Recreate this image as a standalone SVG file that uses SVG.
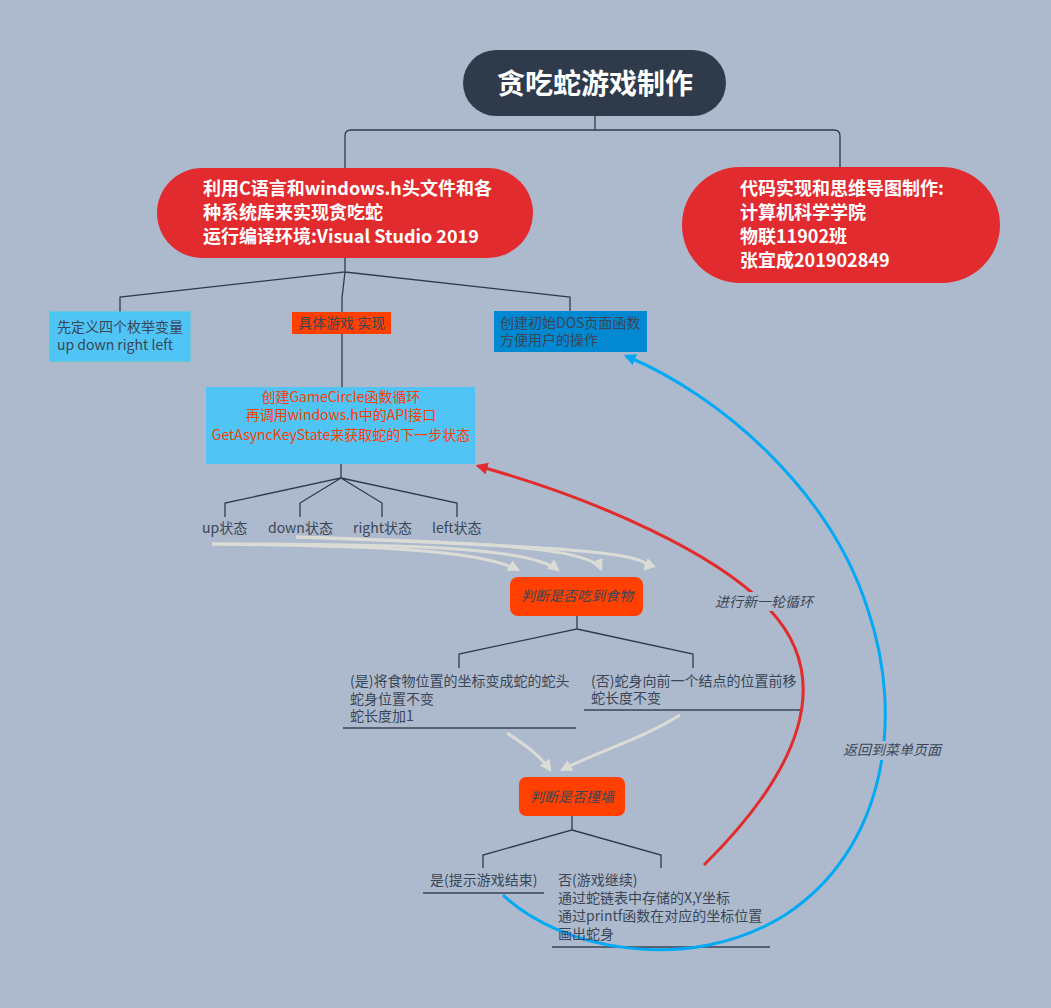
<svg xmlns="http://www.w3.org/2000/svg" width="1051" height="1008" viewBox="0 0 1051 1008">
<defs>
<style>
.t{font-family:"Noto Sans CJK SC","Noto Sans",sans-serif;font-size:14px;fill:#3a4657}
.b{font-family:"Noto Sans CJK SC","Noto Sans",sans-serif;font-size:18px;font-weight:bold;fill:#ffffff}
.i{font-family:"Noto Sans CJK SC","Noto Sans",sans-serif;font-size:14px;font-style:italic;fill:#3a4657}
.o{font-family:"Noto Sans CJK SC","Noto Sans",sans-serif;font-size:14px;fill:#ff3d00}
.ln{fill:none;stroke:#2f3b4b;stroke-width:1.3}
.ul{fill:none;stroke:#3a4657;stroke-width:1.3}
.ga{fill:none;stroke:#dcdcd6;stroke-width:3;marker-end:url(#mg)}
</style>
<marker id="mg" viewBox="0 0 10 10" refX="8" refY="5" markerWidth="4" markerHeight="4" orient="auto" markerUnits="strokeWidth"><path d="M0,0 L10,5 L0,10 z" fill="#dcdcd6"/></marker>
<marker id="mr" viewBox="0 0 10 10" refX="8" refY="5" markerWidth="4" markerHeight="4" orient="auto" markerUnits="strokeWidth"><path d="M0,0 L10,5 L0,10 z" fill="#e22b2b"/></marker>
<marker id="mb" viewBox="0 0 10 10" refX="8" refY="5" markerWidth="4" markerHeight="4" orient="auto" markerUnits="strokeWidth"><path d="M0,0 L10,5 L0,10 z" fill="#03a9f4"/></marker>
</defs>
<rect width="1051" height="1008" fill="#adbacd"/>

<g id="connectors">
<path class="ln" d="M595,116 V130 M351,130 H834 Q840,130 840,136 V168 M351,130 Q345,130 345,136 V170" stroke-width="1.6"/>
<path class="ln" d="M345,258 V272 L120,297 V312 M345,272 L342,298 V312 M345,272 L570,297 V312"/>
<path class="ln" d="M342,334 V387"/>
<path class="ln" d="M341,464 V478 L225,503 V517 M341,478 L300,503 V517 M341,478 L382,503 V517 M341,478 L457,503 V517"/>
<path class="ga" d="M212,544 C380,546 480,550 518,570"/>
<path class="ga" d="M212,544 C420,544 530,548 558,570"/>
<path class="ga" d="M296,537 C450,542 590,545 601,569"/>
<path class="ga" d="M296,537 C500,545 665,550 645,569"/>
<path class="ln" d="M577,616 V629 L459,654 V668 M577,629 L693,654 V668"/>
<path class="ul" d="M343,728 H576 M584,710 H802"/>
<path class="ga" d="M507,733 C525,745 540,755 550,770"/>
<path class="ga" d="M680,715 C640,740 600,750 562,770"/>
<path class="ln" d="M572,816 V830 L483,855 V868 M572,830 L661,855 V868"/>
<path class="ul" d="M423,893 H544 M552,947 H770"/>
<path d="M704,865 C800,770 835,680 770,610 C720,555 600,500 478,466" fill="none" stroke="#e22b2b" stroke-width="3" marker-end="url(#mr)"/>
<path d="M503,895 C560,950 690,975 785,915 C885,850 905,720 868,610 C830,490 720,395 626,356" fill="none" stroke="#03a9f4" stroke-width="3" marker-end="url(#mb)"/>
<rect x="712" y="592" width="98" height="19" fill="#adbacd"/>
<text class="i" x="715" y="607" font-size="13">进行新一轮循环</text>
<rect x="840" y="741" width="98" height="19" fill="#adbacd"/>
<text class="i" x="843" y="755" font-size="13">返回到菜单页面</text>
</g>

<g id="root">
<rect x="463" y="50" width="263" height="66" rx="33" fill="#2f3b4b"/>
<text x="595" y="94" text-anchor="middle" font-family="'Noto Sans CJK SC',sans-serif" font-size="28" font-weight="bold" fill="#ffffff">贪吃蛇游戏制作</text>
</g>

<g id="left-main">
<rect x="157" y="168" width="376" height="90" rx="45" fill="#e22b2e"/>
<text class="b" x="203" y="195">利用C语言和windows.h头文件和各</text>
<text class="b" x="203" y="219">种系统库来实现贪吃蛇</text>
<text class="b" x="203" y="243">运行编译环境:Visual Studio 2019</text>
</g>

<g id="right-main">
<rect x="682" y="167" width="318" height="116" rx="58" fill="#e22b2e"/>
<text class="b" x="740" y="195">代码实现和思维导图制作:</text>
<text class="b" x="740" y="219">计算机科学学院</text>
<text class="b" x="740" y="243">物联11902班</text>
<text class="b" x="740" y="267">张宜成201902849</text>
</g>

<g id="enum">
<rect x="50" y="312" width="140" height="49" fill="#50c4f5" stroke="#36d0e2" stroke-width="1"/>
<text class="t" x="57" y="332">先定义四个枚举变量</text>
<text class="t" x="57" y="350">up down right left</text>
</g>

<g id="impl">
<rect x="292" y="312" width="99" height="22" fill="#ff4000"/>
<text class="t" x="298" y="328">具体游戏 实现</text>
</g>

<g id="dos">
<rect x="494" y="311" width="153" height="41" fill="#0388d2"/>
<text class="t" x="500" y="328">创建初始DOS页面函数</text>
<text class="t" x="500" y="345">方便用户的操作</text>
</g>

<g id="gamecircle">
<rect x="206" y="387" width="269" height="77" fill="#50c4f5"/>
<text class="o" x="341" y="402" text-anchor="middle">创建GameCircle函数循环</text>
<text class="o" x="341" y="420" text-anchor="middle">再调用windows.h中的API接口</text>
<text class="o" x="341" y="440" text-anchor="middle">GetAsyncKeyState来获取蛇的下一步状态</text>
</g>

<g id="states">
<text class="t" x="202" y="533">up状态</text>
<text class="t" x="268" y="533">down状态</text>
<text class="t" x="353" y="533">right状态</text>
<text class="t" x="432" y="533">left状态</text>
</g>

<g id="food">
<rect x="510" y="577" width="133" height="39" rx="8" fill="#ff4000"/>
<text class="i" x="577" y="601" text-anchor="middle">判断是否吃到食物</text>
</g>

<g id="food-yes">
<text class="t" x="350" y="686">(是)将食物位置的坐标变成蛇的蛇头</text>
<text class="t" x="350" y="704">蛇身位置不变</text>
<text class="t" x="350" y="721">蛇长度加1</text>
</g>

<g id="food-no">
<text class="t" x="591" y="686">(否)蛇身向前一个结点的位置前移</text>
<text class="t" x="591" y="703">蛇长度不变</text>
</g>

<g id="wall">
<rect x="519" y="777" width="106" height="39" rx="7" fill="#ff4000"/>
<text class="i" x="572" y="802" text-anchor="middle">判断是否撞墙</text>
</g>

<g id="wall-yes">
<text class="t" x="430" y="885">是(提示游戏结束)</text>
</g>

<g id="wall-no">
<text class="t" x="558" y="885">否(游戏继续)</text>
<text class="t" x="558" y="903">通过蛇链表中存储的X,Y坐标</text>
<text class="t" x="558" y="921">通过printf函数在对应的坐标位置</text>
<text class="t" x="558" y="939">画出蛇身</text>
</g>
</svg>
